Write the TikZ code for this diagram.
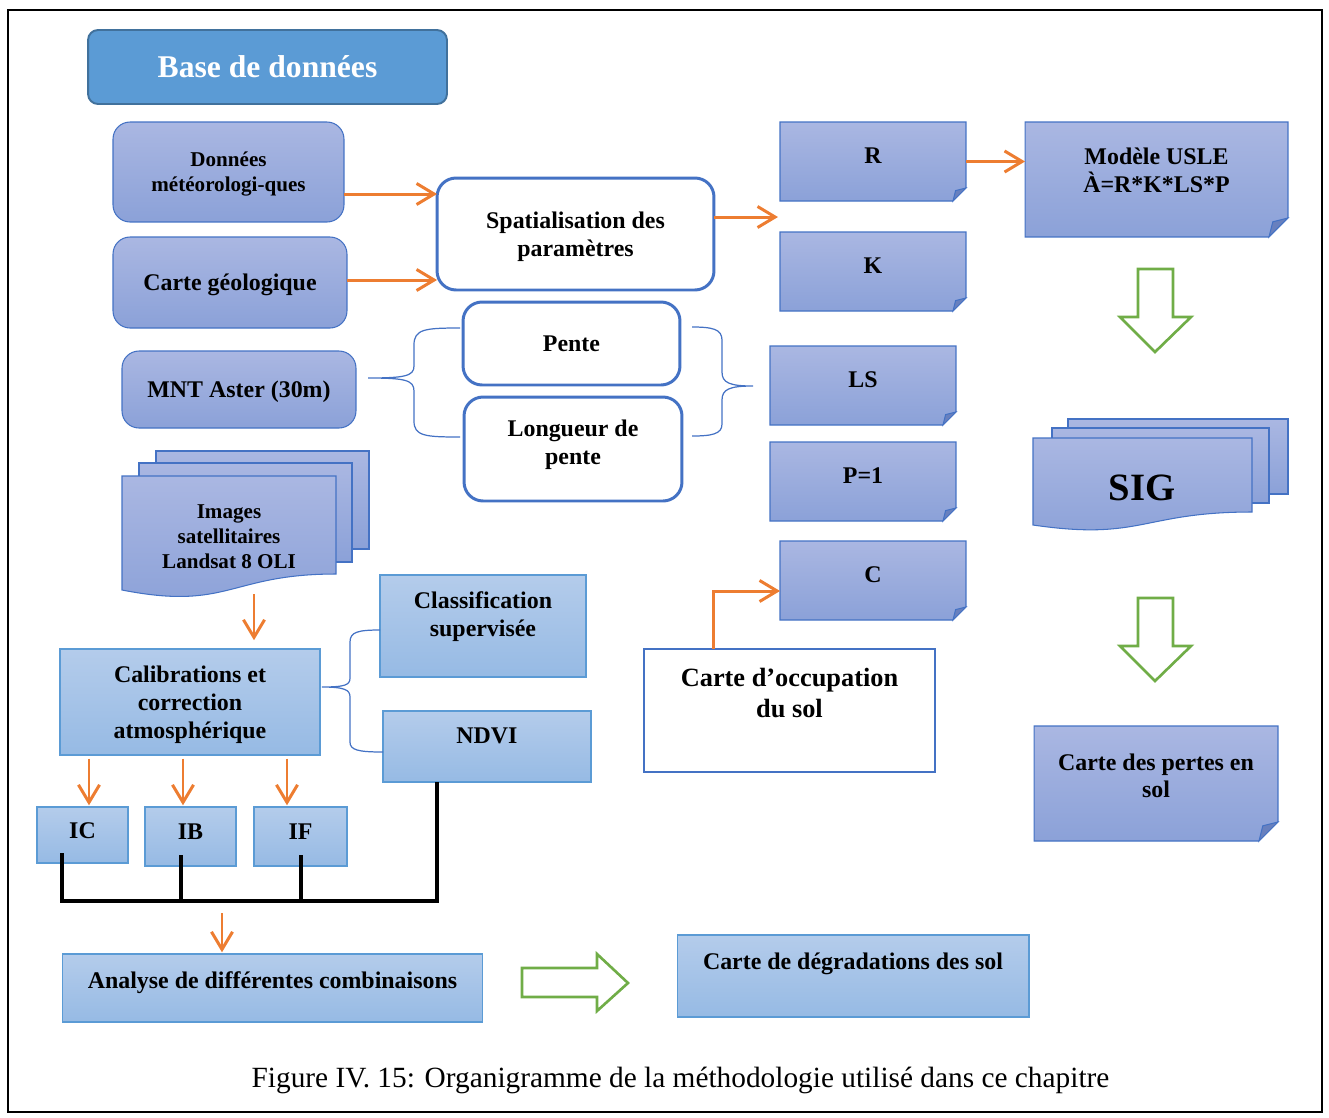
\documentclass[tikz,border=0pt]{standalone}
\usepackage{fontspec}
\setmainfont{Liberation Serif}
\definecolor{offblue}{RGB}{68,114,196}
\definecolor{titleblue}{RGB}{91,155,213}
\definecolor{titleedge}{RGB}{65,113,156}
\definecolor{lavtop}{RGB}{170,183,226}
\definecolor{lavbot}{RGB}{139,161,216}
\definecolor{skytop}{RGB}{180,204,235}
\definecolor{skybot}{RGB}{150,186,228}
\definecolor{skyedge}{RGB}{91,155,213}
\definecolor{foldblue}{RGB}{104,128,190}
\definecolor{arrorange}{RGB}{237,125,49}
\definecolor{arrgreen}{RGB}{112,173,71}
\usetikzlibrary{arrows.meta, positioning, calc, backgrounds}

\newcommand{\fmain}{\fontsize{13.6}{15.8}\selectfont\bfseries}
\newcommand{\fsmall}{\fontsize{12}{14.2}\selectfont\bfseries}
\newcommand{\fbig}{\fontsize{15}{17.6}\selectfont\bfseries}
\newcommand{\ftitle}{\fontsize{18}{21}\selectfont\bfseries}
\newcommand{\fsig}{\fontsize{22}{26}\selectfont\bfseries}
\newcommand{\fcap}{\fontsize{16.7}{20}\selectfont}

\tikzset{
  lift/.style={text depth=#1},
  titlebox/.style={draw=titleedge, line width=1.1pt, fill=titleblue, rounded corners=0.2cm, text=white, font=\ftitle, inner sep=0pt, outer sep=0pt},
  lavbox/.style={draw=offblue, line width=0.6pt, top color=lavtop, bottom color=lavbot, rounded corners=0.34cm, align=center, font=\fmain, inner sep=0pt, outer sep=0pt, text depth=0pt},
  whitebox/.style={draw=offblue, line width=1.7pt, fill=white, rounded corners=0.38cm, align=center, font=\fmain, inner sep=0pt, outer sep=0pt, text depth=0pt},
  foldbox/.style={minimum width=3.72cm, minimum height=1.58cm, align=center, font=\fmain, inner sep=0pt, outer sep=0pt, text depth=6.2pt},
  foldfill/.style={top color=lavtop, bottom color=lavbot, draw=offblue, line width=0.6pt},
  skybox/.style={draw=skyedge, line width=0.6pt, top color=skytop, bottom color=skybot, align=center, font=\fmain, inner sep=0pt, outer sep=0pt, text depth=0pt},
  oarrow/.style={draw=arrorange, line width=1.7pt, -{Straight Barb[length=10pt, width=12pt]}},
  busline/.style={draw=black, line width=2pt},
  bracket/.style={draw=offblue, line width=0.7pt},
  hollow/.style={draw=arrgreen, line width=1.5pt, fill=white}
}

\begin{document}
\begin{tikzpicture}[x=0.02cm, y=-0.02cm]
  \useasboundingbox (0,0) rectangle (1329,1117);
  \draw[line width=1.1pt] (8,10) rectangle (1322,1112);

  % Data sources
  \node[titlebox, minimum width=7.18cm, minimum height=1.48cm] (base) at (267.5,67) {Base de données};
  \node[lavbox, font=\fsmall, minimum width=4.62cm, minimum height=2cm] (don) at (228.5,172) {Données\\météorologi-ques};
  \node[lavbox, minimum width=4.68cm, minimum height=1.82cm] (geo) at (230,282.5) {Carte géologique};
  \node[lavbox, minimum width=4.68cm, minimum height=1.54cm] (mnt) at (239,389.5) {MNT Aster (30m)};
  \node[font=\fsmall, align=center, minimum width=4.28cm, minimum height=2.28cm, inner sep=0pt, outer sep=0pt] (img) at (229,537) {Images\\satellitaires\\Landsat 8 OLI};

  % Middle column
  \node[whitebox, minimum width=5.54cm, minimum height=2.24cm] (spat) at (575.5,234) {Spatialisation des\\paramètres};
  \node[whitebox, minimum width=4.34cm, minimum height=1.66cm] (pente) at (571.5,343.5) {Pente};
  \node[whitebox, lift=8pt, minimum width=4.36cm, minimum height=2.08cm] (lon) at (573,449) {Longueur de\\pente};

  % USLE factors
  \node[foldbox] (r) at (873,161.5) {R};
  \node[foldbox] (k) at (873,271.5) {K};
  \node[foldbox] (ls) at (863,385.5) {LS};
  \node[foldbox] (p) at (863,481.5) {P=1};
  \node[foldbox] (c) at (873,580.5) {C};
  \node[foldbox, lift=10.8pt, minimum width=5.26cm, minimum height=2.3cm] (usle) at (1156.5,179.5) {Modèle USLE\\À=R*K*LS*P};
  \node[font=\fsig] (sig) at (1142,488) {SIG};
  \node[foldbox, lift=9pt, minimum width=4.88cm, minimum height=2.3cm] (pertes) at (1156,783.5) {Carte des pertes en\\sol};

  % Image processing
  \node[skybox, minimum width=5.2cm, minimum height=2.12cm] (calib) at (190,702) {Calibrations et\\correction\\atmosphérique};
  \node[skybox, lift=13.4pt, minimum width=4.12cm, minimum height=2.04cm] (clas) at (483,626) {Classification\\supervisée};
  \node[skybox, lift=12pt, minimum width=4.16cm, minimum height=1.42cm] (ndvi) at (487,746.5) {NDVI};
  \node[skybox, lift=5pt, minimum width=1.82cm, minimum height=1.12cm] (ic) at (82.5,835) {IC};
  \node[skybox, lift=5pt, minimum width=1.82cm, minimum height=1.18cm] (ib) at (190.5,836.5) {IB};
  \node[skybox, lift=5pt, minimum width=1.86cm, minimum height=1.18cm] (if) at (300.5,836.5) {IF};
  \node[skybox, lift=9pt, minimum width=8.42cm, minimum height=1.36cm] (ana) at (272.5,988) {Analyse de différentes combinaisons};
  \node[skybox, lift=17pt, minimum width=7.04cm, minimum height=1.64cm] (deg) at (853,976) {Carte de dégradations des sol};
  \node[draw=offblue, line width=1.4pt, font=\fbig, align=center, lift=20.4pt, minimum width=5.82cm, minimum height=2.46cm, inner sep=0pt, outer sep=0pt] (occ) at (789.5,710.5) {Carte d’occupation\\du sol};

  \node[font=\fcap] (cap) at (680.5,1080) {Figure IV. 15: Organigramme de la méthodologie utilisé dans ce chapitre};

  % shapes behind the texts
  \begin{scope}[on background layer]
    \foreach \n/\f in {r/0.26, k/0.26, ls/0.26, p/0.26, c/0.26, usle/0.38, pertes/0.38}{
      \shade[foldfill] (\n.north west) -- (\n.north east) -- ([yshift=\f cm]\n.south east) -- ([xshift=-\f cm]\n.south east) -- (\n.south west) -- cycle;
      \filldraw[fill=foldblue, draw=offblue, line width=0.6pt] ([yshift=\f cm]\n.south east) -- ([xshift=-\f cm]\n.south east) -- ([xshift=-0.8*\f cm, yshift=0.8*\f cm]\n.south east) -- cycle;
    }
    % stacked documents
    \shade[foldfill] (156,451) rectangle (369,549);
    \shade[foldfill] (139,463) rectangle (352,562);
    \shade[foldfill] (122,476) -- (336,476) -- (336,574) .. controls (229,574) and (229,611) .. (122,590) -- cycle;
    \shade[foldfill] (1068,419) rectangle (1288,494);
    \shade[foldfill] (1052,428) rectangle (1269,503);
    \shade[foldfill] (1033,438) -- (1252,438) -- (1252,512) .. controls (1142,512) and (1142,541) .. (1033,525) -- cycle;
  \end{scope}

  % braces
  \draw[bracket] (460,328) .. controls (425,328) and (414,329) .. (414,345) -- (414,366) .. controls (414,376) and (405,378) .. (368,378) .. controls (405,378) and (414,380) .. (414,391) -- (414,421) .. controls (414,436) and (425,437) .. (460,437);
  \draw[bracket] (692,327) .. controls (712,327) and (722,329) .. (722,340) -- (722,372) .. controls (722,383) and (730,386) .. (753,386) .. controls (730,386) and (722,389) .. (722,400) -- (722,424) .. controls (722,434) and (712,436) .. (692,436);
  \draw[bracket] (380,630) .. controls (358,630) and (350,632) .. (350,642) -- (350,678) .. controls (350,685) and (345,687) .. (322,687) .. controls (345,687) and (350,690) .. (350,697) -- (350,742) .. controls (350,750) and (358,752) .. (383,752);

  % orange arrows
  \draw[oarrow] (don.east |- 0,194) -- (spat.west |- 0,194);
  \draw[oarrow] (geo.east |- 0,280) -- (spat.west |- 0,280);
  \coordinate (rk) at (778,217);
  \draw[oarrow] (spat.east |- rk) -- (rk);
  \draw[oarrow] (r.east) -- (usle.west |- r.east);
  \draw[oarrow, shorten >=5pt] (img.south -| 254,0) -- (calib.north -| 254,0);
  \foreach \n/\x in {ic/89, ib/183, if/287}
    \draw[oarrow, shorten <=2pt, shorten >=1pt] (calib.south -| \x,0) -- (\n.north -| \x,0);
  \draw[oarrow] (occ.north -| 713,0) |- (c.west |- 0,591);

  % black junction
  \coordinate (bl) at (62,901);
  \coordinate (br) at (437,901);
  \draw[busline] ($(ic.south -| bl)+(0,-10)$) -- (bl) -- (br) -- (ndvi.south -| br);
  \foreach \n/\x in {ib/181, if/301}
    \draw[busline] ($(\n.south -| \x,0)+(0,-11)$) -- (\x,901);
  \coordinate (anatop) at (222,913);
  \draw[oarrow, shorten >=1pt] (anatop) -- (ana.north -| anatop);

  % hollow green arrows
  \foreach \t in {269, 598}
    \draw[hollow] (1138,\t) -- (1173,\t) -- (1173,\t+48) -- (1191,\t+48) -- (1155,\t+83) -- (1120,\t+48) -- (1138,\t+48) -- cycle;
  \draw[hollow] (522,968) -- (597,968) -- (597,954) -- (628,983) -- (597,1011) -- (597,997) -- (522,997) -- cycle;
\end{tikzpicture}
\end{document}
